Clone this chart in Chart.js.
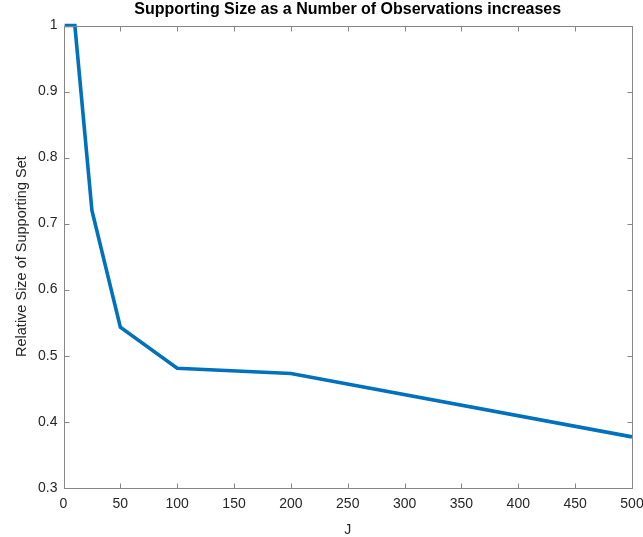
<!DOCTYPE html>
<html>
<head>
<meta charset="utf-8">
<script src="https://cdn.jsdelivr.net/npm/chart.js@4/dist/chart.umd.min.js"></script>
<style>
  html, body { margin: 0; padding: 0; background: #fff; }
  #wrap { width: 643px; height: 537px; }
</style>
</head>
<body>
<div id="wrap"><canvas id="c" width="643" height="537"></canvas></div>
<script>
// Number of observations J and relative size of the supporting set
const observations = [1, 10, 25, 50, 100, 200, 500];
const relativeSize = [1.0, 1.0, 0.72, 0.543, 0.481, 0.473, 0.377];

// Axis tick values
const xTickValues = [0, 50, 100, 150, 200, 250, 300, 350, 400, 450, 500];
const yTickValues = [0.3, 0.4, 0.5, 0.6, 0.7, 0.8, 0.9, 1.0];

const TITLE = 'Supporting Size as a Number of Observations increases';
const FONT = "'Liberation Sans', Arial, Helvetica, sans-serif";
const AXIS_COLOR = '#868686';
const LABEL_COLOR = '#262626';

// Full box around the plot area with inward-pointing tick marks on all four sides
const boxTicks = {
  id: 'boxTicks',
  afterDatasetsDraw(chart) {
    const { ctx, chartArea: a, scales: { x, y } } = chart;
    const L = Math.round(a.left) + 0.5, R = Math.round(a.right) + 0.5;
    const T = Math.round(a.top) + 0.5, B = Math.round(a.bottom) + 0.5;
    const len = 5;
    ctx.save();
    ctx.strokeStyle = AXIS_COLOR;
    ctx.lineWidth = 1;
    ctx.beginPath();
    ctx.rect(L, T, R - L, B - T);
    x.ticks.forEach(t => {
      const px = Math.round(x.getPixelForValue(t.value)) + 0.5;
      ctx.moveTo(px, B); ctx.lineTo(px, B - len);
      ctx.moveTo(px, T); ctx.lineTo(px, T + len);
    });
    y.ticks.forEach(t => {
      const py = Math.round(y.getPixelForValue(t.value)) + 0.5;
      ctx.moveTo(L, py); ctx.lineTo(L + len, py);
      ctx.moveTo(R, py); ctx.lineTo(R - len, py);
    });
    ctx.stroke();
    ctx.restore();
  }
};

// Title centred over the plot area rather than the whole canvas
const plotTitle = {
  id: 'plotTitle',
  afterDraw(chart) {
    const { ctx, chartArea: a } = chart;
    ctx.save();
    ctx.fillStyle = '#000';
    ctx.font = "bold 16px " + FONT;
    ctx.textAlign = 'center';
    ctx.textBaseline = 'alphabetic';
    ctx.fillText(TITLE, (a.left + a.right) / 2, 14);
    ctx.restore();
  }
};

new Chart(document.getElementById('c'), {
  type: 'line',
  data: {
    datasets: [{
      data: observations.map((j, i) => ({ x: j, y: relativeSize[i] })),
      borderColor: '#0072BD',
      borderWidth: 3.6,
      pointRadius: 0,
      tension: 0,
      fill: false,
      clip: false,
      borderJoinStyle: 'miter'
    }]
  },
  options: {
    responsive: false,
    animation: false,
    layout: { padding: { left: 0, right: 11, top: 25.5, bottom: 0 } },
    plugins: {
      legend: { display: false },
      tooltip: { enabled: false },
      title: { display: false }
    },
    scales: {
      x: {
        type: 'linear',
        min: 0, max: 500,
        afterBuildTicks(s) { s.ticks = xTickValues.map(v => ({ value: v })); },
        afterFit(s) { s.height = 49.3; s.paddingLeft = 0; s.paddingRight = 0; },
        grid: { display: false, drawTicks: false },
        border: { display: false },
        ticks: {
          color: LABEL_COLOR,
          font: { family: FONT, size: 14 },
          padding: 8,
          maxRotation: 0,
          callback: v => String(v)
        },
        title: {
          display: true,
          text: 'J',
          color: LABEL_COLOR,
          font: { family: FONT, size: 14, lineHeight: 1.0 },
          padding: { top: 2, bottom: 0 }
        }
      },
      y: {
        type: 'linear',
        min: 0.3, max: 1.0,
        afterBuildTicks(s) { s.ticks = yTickValues.map(v => ({ value: v })); },
        afterFit(s) { s.width = 63.5; },
        grid: { display: false, drawTicks: false },
        border: { display: false },
        ticks: {
          color: LABEL_COLOR,
          font: { family: FONT, size: 14 },
          padding: 6,
          callback: v => String(Number(v.toFixed(1)))
        },
        title: {
          display: true,
          text: 'Relative Size of Supporting Set',
          color: LABEL_COLOR,
          font: { family: FONT, size: 14.5 },
          padding: { top: 13, bottom: 0 }
        }
      }
    }
  },
  plugins: [boxTicks, plotTitle]
});
</script>
</body>
</html>
